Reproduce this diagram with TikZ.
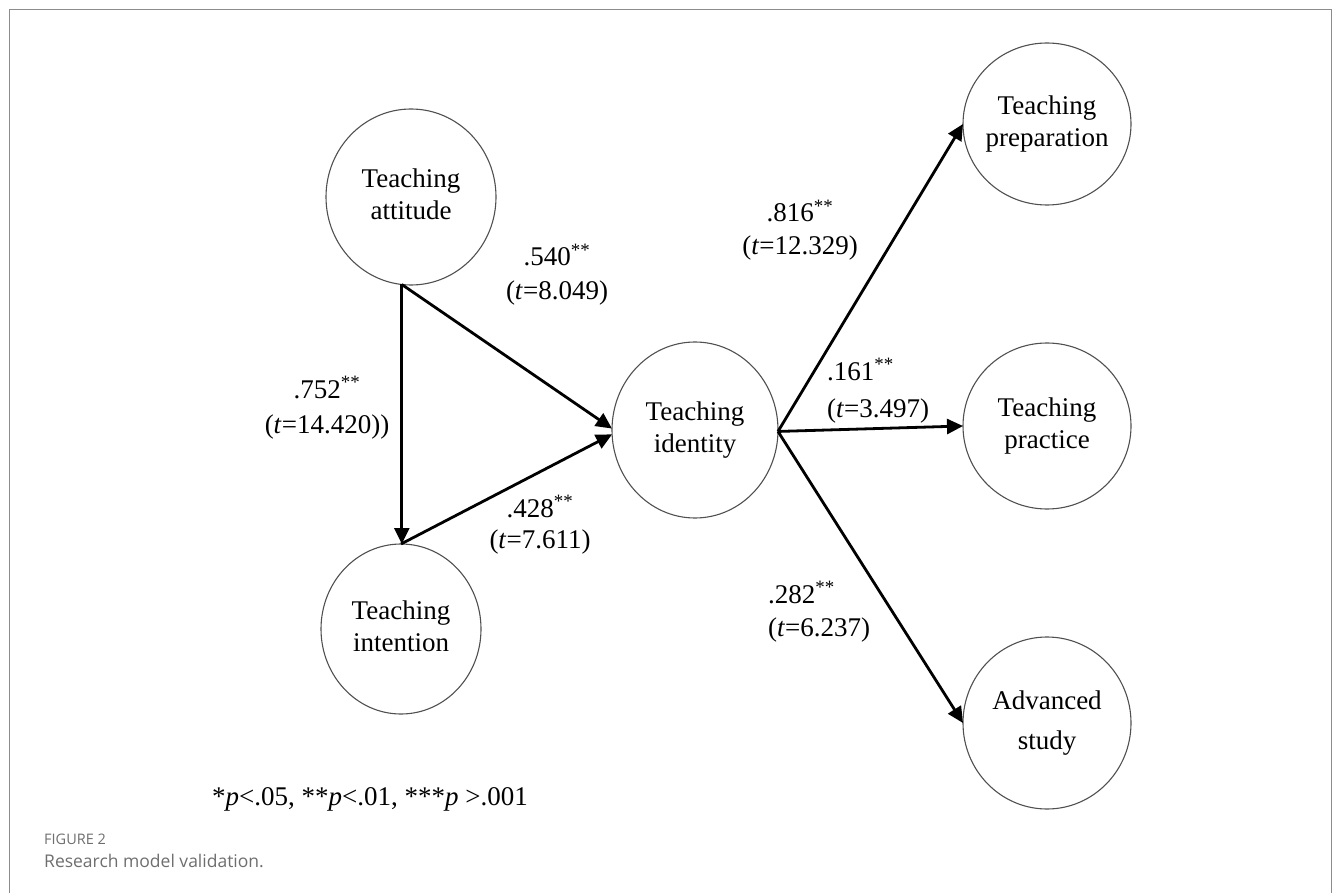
\documentclass[tikz,border=0pt]{standalone}
\usepackage{fontspec}
\setmainfont{Liberation Serif}
\newfontfamily\capfont{Open Sans}
\usetikzlibrary{arrows.meta,shapes.geometric}
\definecolor{framegray}{HTML}{8C8C8C}
\definecolor{circgray}{HTML}{505050}
\definecolor{capgray}{HTML}{6E6E6E}
% text inside an ellipse: raise, extra row gap, line 1, line 2
\newcommand{\ctext}[4]{\makebox[0pt]{\raisebox{#1}{\begin{tabular}{@{}c@{}}#3\\[#2]#4\end{tabular}}}}
% path label: column type, extra row gap, line 1, line 2
\newcommand{\lab}[4]{\begin{tabular}[t]{@{}#1@{}}#3\\[#2]#4\end{tabular}}
\tikzset{
  latent/.style={ellipse, draw=circgray, line width=1.1pt, inner sep=0pt, outer sep=0pt, fill=white},
  arr/.style={line width=2.8pt, -{Triangle[length=16pt,width=15pt]}},
  coef/.style={inner sep=0pt, font=\fontsize{27}{31}\selectfont},
}
\begin{document}
\begin{tikzpicture}[x=1pt,y=-1pt, font=\fontsize{27}{32}\selectfont]
\useasboundingbox (0,0) rectangle (1333,893);
% frame
\draw[framegray, line width=1.5pt] (9.5,893) -- (9.5,9.5) -- (1331.5,9.5) -- (1331.5,893);

% latent variables
\node[latent, minimum width=170pt, minimum height=176pt] (att) at (411,197) {\ctext{1pt}{0pt}{Teaching}{attitude}};
\node[latent, minimum width=160pt, minimum height=170pt] (int) at (401,629) {\ctext{2pt}{0pt}{Teaching}{intention}};
\node[latent, minimum width=166pt, minimum height=176pt] (id) at (695,430) {\ctext{8pt}{0pt}{Teaching}{identity}};
\node[latent, minimum width=168pt, minimum height=162pt] (prep) at (1047,124) {\ctext{9pt}{0pt}{Teaching}{preparation}};
\node[latent, minimum width=168pt, minimum height=166pt] (prac) at (1047,426) {\ctext{8pt}{0pt}{Teaching}{practice}};
\node[latent, minimum width=168pt, minimum height=172pt] (adv) at (1047,723) {\ctext{-2pt}{8pt}{Advanced}{study}};

% paths
\draw[arr] (att.-96) -- (att.-96 |- int.north);
\draw[arr] (att.-96) -- (id.179);
\draw[arr] (int.north) -- (id.183);
\draw[arr] (id.-1) -- (prep.west);
\draw[arr] (id.-1) -- (prac.west);
\draw[arr] (id.-1) -- (adv.west);

% coefficients
\node[coef, anchor=base] (c752) at (327,398) {\lab{c}{4pt}{.752\textsuperscript{**}}{(\textit{t}=14.420))}};
\node[coef, anchor=base] (c540) at (557,266) {\lab{c}{3pt}{.540\textsuperscript{**}}{(\textit{t}=8.049)}};
\node[coef, anchor=base] (c428) at (540,517) {\lab{c}{0pt}{.428\textsuperscript{**}}{(\textit{t}=7.611)}};
\node[coef, anchor=base] (c816) at (800,222) {\lab{c}{2pt}{.816\textsuperscript{**}}{(\textit{t}=12.329)}};
\node[coef, anchor=base west] (c161) at (827,380) {\lab{l}{6pt}{.161\textsuperscript{**}}{(\textit{t}=3.497)}};
\node[coef, anchor=base west] (c282) at (768,603) {\lab{l}{2pt}{.282\textsuperscript{**}}{(\textit{t}=6.237)}};

% significance note
\node[inner sep=0pt, anchor=base west] (note) at (212,805) {*\textit{p}<.05, **\textit{p}<.01, ***\textit{p} >.001};

% caption
\node[inner sep=0pt, anchor=base west, text=capgray, font=\capfont\fontsize{14.5}{17}\selectfont] (fig) at (44,844) {FIGURE 2};
\node[inner sep=0pt, anchor=base west, text=capgray, font=\capfont\fontsize{17.5}{21}\selectfont] (cap) at (44,867) {Research model validation.};
\end{tikzpicture}
\end{document}
